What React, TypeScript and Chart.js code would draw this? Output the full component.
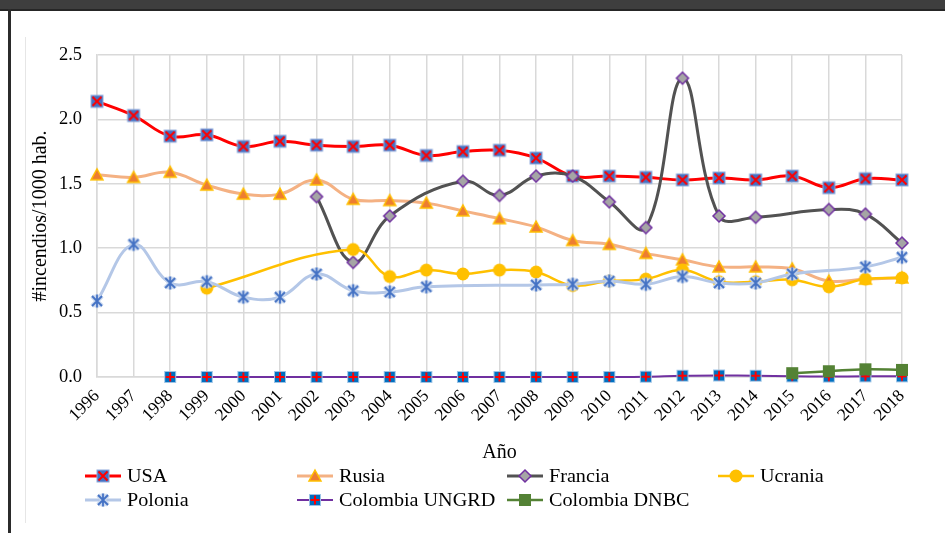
import React, { useEffect, useRef } from "react";
import { Chart, registerables } from "chart.js";

Chart.register(...registerables);

const years = ["1996","1997","1998","1999","2000","2001","2002","2003","2004","2005","2006","2007","2008","2009","2010","2011","2012","2013","2014","2015","2016","2017","2018"];

const usa = [2.14, 2.03, 1.87, 1.88, 1.79, 1.83, 1.80, 1.79, 1.80, 1.72, 1.75, 1.76, 1.70, 1.56, 1.56, 1.55, 1.53, 1.545, 1.53, 1.56, 1.47, 1.54, 1.53];
const rusia = [1.57, 1.55, 1.59, 1.49, 1.42, 1.42, 1.53, 1.38, 1.37, 1.35, 1.29, 1.23, 1.165, 1.06, 1.03, 0.96, 0.91, 0.855, 0.855, 0.84, 0.745, 0.76, 0.77];
const francia = [null, null, null, null, null, null, 1.40, 0.89, 1.25, null, 1.52, 1.41, 1.56, 1.56, 1.36, 1.16, 2.32, 1.25, 1.24, null, 1.30, 1.265, 1.04];
const ucrania = [null, null, null, 0.69, null, null, null, 0.99, 0.78, 0.83, 0.80, 0.83, 0.815, 0.71, 0.745, 0.76, 0.83, 0.74, 0.74, 0.755, 0.70, 0.76, 0.77];
const polonia = [0.59, 1.03, 0.73, 0.74, 0.62, 0.62, 0.80, 0.67, 0.66, 0.70, null, null, 0.715, 0.72, 0.745, 0.72, 0.78, 0.73, 0.73, 0.80, null, 0.855, 0.93];
const colUngrd = [null, null, 0.0, 0.0, 0.0, 0.0, 0.0, 0.0, 0.0, 0.0, 0.0, 0.0, 0.0, 0.0, 0.0, 0.002, 0.01, 0.012, 0.01, 0.005, 0.003, 0.005, 0.005];
const colDnbc = [null, null, null, null, null, null, null, null, null, null, null, null, null, null, null, null, null, null, null, 0.03, 0.045, 0.06, 0.055];

const yTicks = [0, 0.5, 1.0, 1.5, 2.0, 2.5];
const yTitle = "#incendios/1000 hab.";
const xTitle = "Año";

const FONT = '"Liberation Serif", "Times New Roman", serif';

function makeMarker(kind: string): HTMLCanvasElement {
  const c = document.createElement("canvas");
  const s = 16;
  c.width = s;
  c.height = s;
  const ctx = c.getContext("2d")!;
  const m = s / 2;
  ctx.lineCap = "butt";
  if (kind === "usa") {
    ctx.fillStyle = "#4472C4";
    ctx.fillRect(m - 6, m - 6, 12, 12);
    ctx.strokeStyle = "#8FAADC";
    ctx.lineWidth = 1;
    ctx.strokeRect(m - 6, m - 6, 12, 12);
    ctx.strokeStyle = "#FF0000";
    ctx.lineWidth = 2;
    ctx.beginPath();
    ctx.moveTo(m - 4.5, m - 4.5); ctx.lineTo(m + 4.5, m + 4.5);
    ctx.moveTo(m + 4.5, m - 4.5); ctx.lineTo(m - 4.5, m + 4.5);
    ctx.stroke();
  } else if (kind === "rusia") {
    ctx.beginPath();
    ctx.moveTo(m, m - 6);
    ctx.lineTo(m + 6, m + 5);
    ctx.lineTo(m - 6, m + 5);
    ctx.closePath();
    ctx.fillStyle = "#ED7D31";
    ctx.fill();
    ctx.strokeStyle = "#FFC000";
    ctx.lineWidth = 1.5;
    ctx.stroke();
  } else if (kind === "francia") {
    ctx.beginPath();
    ctx.moveTo(m, m - 6);
    ctx.lineTo(m + 6, m);
    ctx.lineTo(m, m + 6);
    ctx.lineTo(m - 6, m);
    ctx.closePath();
    ctx.fillStyle = "#A5A5A5";
    ctx.fill();
    ctx.strokeStyle = "#7030A0";
    ctx.lineWidth = 1.5;
    ctx.stroke();
  } else if (kind === "ucrania") {
    ctx.beginPath();
    ctx.arc(m, m, 6.5, 0, Math.PI * 2);
    ctx.fillStyle = "#FFC000";
    ctx.fill();
  } else if (kind === "polonia") {
    const draw = () => {
      ctx.beginPath();
      ctx.moveTo(m - 5, m - 5); ctx.lineTo(m + 5, m + 5);
      ctx.moveTo(m + 5, m - 5); ctx.lineTo(m - 5, m + 5);
      ctx.moveTo(m, m - 6.5); ctx.lineTo(m, m + 6.5);
      ctx.stroke();
    };
    ctx.strokeStyle = "#C9D7EE";
    ctx.lineWidth = 4.5;
    draw();
    ctx.strokeStyle = "#4472C4";
    ctx.lineWidth = 1.8;
    draw();
  } else if (kind === "ungrd") {
    ctx.fillStyle = "#0070C0";
    ctx.fillRect(m - 5.5, m - 5.5, 11, 11);
    ctx.strokeStyle = "#9DC3E6";
    ctx.lineWidth = 1;
    ctx.strokeRect(m - 5.5, m - 5.5, 11, 11);
    ctx.strokeStyle = "#FF0000";
    ctx.lineWidth = 2;
    ctx.beginPath();
    ctx.moveTo(m - 4.5, m); ctx.lineTo(m + 4.5, m);
    ctx.moveTo(m, m - 4.5); ctx.lineTo(m, m + 4.5);
    ctx.stroke();
  } else if (kind === "dnbc") {
    ctx.fillStyle = "#548235";
    ctx.fillRect(m - 6, m - 6, 12, 12);
  }
  return c;
}

export default function App() {
  const ref = useRef<HTMLCanvasElement | null>(null);

  useEffect(() => {
    if (!ref.current) return;
    const markers: Record<string, HTMLCanvasElement> = {
      usa: makeMarker("usa"),
      rusia: makeMarker("rusia"),
      francia: makeMarker("francia"),
      ucrania: makeMarker("ucrania"),
      polonia: makeMarker("polonia"),
      ungrd: makeMarker("ungrd"),
      dnbc: makeMarker("dnbc"),
    };

    const series = [
      { label: "USA", data: usa, color: "#FF0000", width: 3, marker: markers.usa },
      { label: "Rusia", data: rusia, color: "#F4B183", width: 3, marker: markers.rusia },
      { label: "Francia", data: francia, color: "#525252", width: 3, marker: markers.francia },
      { label: "Ucrania", data: ucrania, color: "#FFC000", width: 2.5, marker: markers.ucrania },
      { label: "Polonia", data: polonia, color: "#B4C7E7", width: 3, marker: markers.polonia },
      { label: "Colombia UNGRD", data: colUngrd, color: "#7030A0", width: 2, marker: markers.ungrd },
      { label: "Colombia DNBC", data: colDnbc, color: "#548235", width: 2.5, marker: markers.dnbc },
    ];

    const legendPlugin = {
      id: "customLegend",
      afterDraw(chart: any) {
        const ctx = chart.ctx as CanvasRenderingContext2D;
        const colX = [85, 297, 507, 718];
        const rowY = [476, 500];
        ctx.save();
        ctx.font = `18px ${FONT}`;
        ctx.textBaseline = "middle";
        ctx.textAlign = "left";
        series.forEach((s, i) => {
          const col = i % 4;
          const row = Math.floor(i / 4);
          const x = colX[col];
          const y = rowY[row];
          ctx.strokeStyle = s.color;
          ctx.lineWidth = s.width;
          ctx.beginPath();
          ctx.moveTo(x, y);
          ctx.lineTo(x + 36, y);
          ctx.stroke();
          ctx.drawImage(s.marker, x + 18 - s.marker.width / 2, y - s.marker.height / 2);
          ctx.fillStyle = "#000";
          ctx.save();
          ctx.translate(x + 42, y + 1);
          ctx.scale(1.12, 1);
          ctx.fillText(s.label, 0, 0);
          ctx.restore();
        });
        ctx.restore();
      },
    };

    const chart = new Chart(ref.current, {
      type: "line",
      data: {
        labels: years,
        datasets: series.map((s, i) => ({
          label: s.label,
          data: s.data as any,
          borderColor: s.color,
          backgroundColor: s.color,
          borderWidth: s.width,
          pointStyle: s.marker as any,
          pointRadius: 6,
          tension: 0.4,
          spanGaps: true,
          clip: false as any,
          order: series.length - i,
        })),
      },
      options: {
        animation: false,
        responsive: false,
        devicePixelRatio: 1,
        layout: { padding: { left: 25, top: 55, right: 43, bottom: 64 } },
        plugins: {
          legend: { display: false },
          tooltip: { enabled: false },
        },
        scales: {
          x: {
            grid: { color: "#D9D9D9", lineWidth: 1.5, drawTicks: false },
            border: { color: "#D9D9D9", width: 1.5 },
            ticks: {
              color: "#000",
              font: { family: FONT, size: 17.5 },
              minRotation: 45,
              maxRotation: 45,
              autoSkip: false,
              padding: 9,
            },
            title: {
              display: true,
              text: xTitle,
              color: "#000",
              font: { family: FONT, size: 20 },
              padding: { top: 4, bottom: 4 },
            },
            afterFit: (scale: any) => { scale.height = 92; },
          },
          y: {
            min: 0,
            max: 2.5,
            grid: { color: "#D9D9D9", lineWidth: 1.5, drawTicks: false },
            border: { color: "#D9D9D9", width: 1.5 },
            ticks: {
              color: "#000",
              font: { family: FONT, size: 18.5 },
              padding: 15,
              stepSize: 0.5,
              callback: (v: any) => Number(v).toFixed(1),
            },
            afterBuildTicks: (scale: any) => {
              scale.ticks = yTicks.map((v) => ({ value: v }));
            },
            title: {
              display: true,
              text: yTitle,
              color: "#000",
              font: { family: FONT, size: 20 },
              padding: { top: 4, bottom: 4 },
            },
            afterFit: (scale: any) => { scale.width = 72; },
          },
        },
      },
      plugins: [legendPlugin],
    });
    return () => chart.destroy();
  }, []);

  return (
    <div style={{ position: "fixed", left: 0, top: 0, width: 945, height: 533, background: "#fff", overflow: "hidden" }}>
      <canvas ref={ref} width={945} height={533} style={{ position: "absolute", left: 0, top: 0, width: 945, height: 533 }} />
      <div style={{ position: "absolute", left: 0, top: 0, width: 945, height: 9, background: "#3E3E3E" }} />
      <div style={{ position: "absolute", left: 0, top: 9, width: 945, height: 2, background: "#262626" }} />
      <div style={{ position: "absolute", left: 8, top: 9, width: 3, height: 524, background: "#2B2B2B" }} />
      <div style={{ position: "absolute", left: 25, top: 37, width: 1, height: 486, background: "#E6E6E6" }} />
    </div>
  );
}
